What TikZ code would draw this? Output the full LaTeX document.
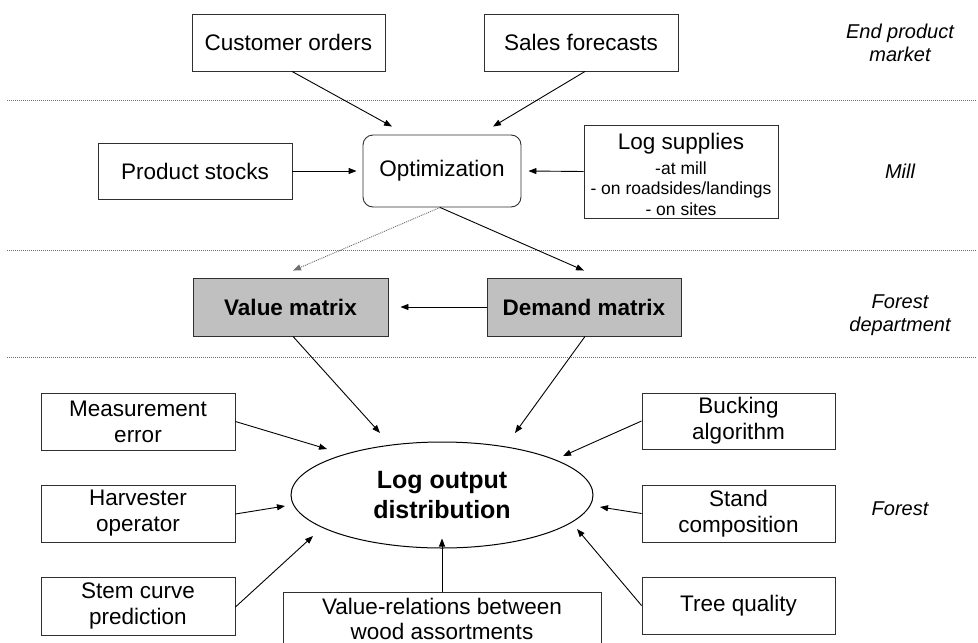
\documentclass[tikz,border=0pt]{standalone}
\usepackage{fontspec}
\setmainfont{Liberation Sans}
\usetikzlibrary{arrows.meta,shapes.geometric}
\definecolor{boxgray}{HTML}{C0C0C0}
\definecolor{edgegray}{HTML}{303030}
\definecolor{sepgray}{HTML}{707070}
\begin{document}
\begin{tikzpicture}[x=1pt,y=-1pt,
  box/.style={draw=edgegray,line width=0.9pt,rectangle,inner sep=2pt,align=center,
    font=\fontsize{22.5}{26}\selectfont},
  filled/.style={box,fill=boxgray,font=\fontsize{22.5}{26}\selectfont\bfseries},
  region/.style={font=\fontsize{20}{23}\selectfont\itshape,align=center},
  sep/.style={draw=sepgray,line width=0.9pt,dash pattern=on 1pt off 1pt},
  arr/.style={draw=black,line width=0.9pt,-{Triangle[length=8pt,width=6pt]}},
  darr/.style={arr,draw=sepgray,dash pattern=on 1pt off 1pt}
]
\clip (0,0) rectangle (978,643);
\fill[white] (0,0) rectangle (978,643);

% separators
\coordinate (s1l) at (7,100);  \coordinate (s1r) at (977,100);
\coordinate (s2l) at (7,250);  \coordinate (s2r) at (977,250);
\coordinate (s3l) at (7,357);  \coordinate (s3r) at (977,357);
\draw[sep] (s1l) -- (s1r);
\draw[sep] (s2l) -- (s2r);
\draw[sep] (s3l) -- (s3r);

% region labels
\node[region] (lmarket) at (900,43) {End product\\market};
\node[region] (lmill) at (900,171) {Mill};
\node[region] (ldept) at (900,315) {Forest\\department};
\node[region] (lforest) at (900,509) {Forest};

% top row
\node[box,minimum width=193pt,minimum height=57pt] (cust) at (288.5,42.5) {Customer orders};
\node[box,minimum width=194pt,minimum height=57pt] (sales) at (581,42.5) {Sales forecasts};

% mill row
\node[box,minimum width=194pt,minimum height=56pt] (prod) at (195,171) {Product stocks};
\node[box,rounded corners=10pt,minimum width=158pt,minimum height=72pt] (opt) at (442,171) {Optimization};
\node[box,minimum width=194pt,minimum height=93pt,inner sep=0pt] (logs) at (681,171.5) {};
\node[align=center,inner sep=0pt,font=\fontsize{17.5}{20.5}\selectfont] (logstext) at (681,174)
  {{\fontsize{22.5}{26}\selectfont Log supplies}\\[4.5pt]-at mill\\- on roadsides/landings\\- on sites};

% forest department row
\node[filled,minimum width=195pt,minimum height=58pt] (value) at (290.5,307) {Value matrix};
\node[filled,minimum width=194pt,minimum height=58pt] (demand) at (584,307) {Demand matrix};

% forest
\node[draw=black,line width=1pt,ellipse,minimum width=302pt,minimum height=106pt,inner sep=0pt,align=center,
  font=\fontsize{25}{30}\selectfont\bfseries] (ell) at (442,495) {Log output\\distribution};

\node[box,minimum width=194pt,minimum height=57pt] (meas) at (138,421.5) {Measurement\\error};
\node[box,minimum width=194pt,minimum height=57pt] (harv) at (138,513.5) {Harvester\\operator};
\node[box,minimum width=194pt,minimum height=58pt] (stem) at (138,606) {Stem curve\\prediction};
\node[box,minimum width=318pt,minimum height=54pt,font=\fontsize{22.5}{25}\selectfont] (vrel) at (442,619) {Value-relations between\\wood assortments};
\node[box,minimum width=193pt,minimum height=56pt] (buck) at (738.5,421) {Bucking\\algorithm};
\node[box,minimum width=193pt,minimum height=57pt] (stand) at (738.5,513.5) {Stand\\composition};
\node[box,minimum width=193pt,minimum height=57pt] (tree) at (738.5,605.5) {Tree quality};

% connectors
\draw[arr] ([xshift=3.5pt]cust.south) -- ([shift={(-50,-8)}]opt.north);
\draw[arr] ([xshift=4pt]sales.south) -- ([shift={(51,-8)}]opt.north);
\draw[arr] (prod.east) -- ([xshift=-6pt]opt.west);
\draw[arr] (logs.west) -- ([xshift=7pt]opt.east);
\draw[darr] ([xshift=-2pt]opt.south) -- ([shift={(2.5,-7)}]value.north);
\draw[arr] ([xshift=-2pt]opt.south) -- ([shift={(0,-7)}]demand.north);
\draw[arr] (demand.west) -- ([xshift=12pt]value.east);
\draw[arr] ([xshift=2.5pt]value.south) -- ([shift={(-62,-62)}]ell.center);
\draw[arr] ([xshift=1pt]demand.south) -- ([shift={(73,-62)}]ell.center);
\draw[arr] (meas.east) -- ([shift={(-115,-46)}]ell.center);
\draw[arr] ([yshift=-0.5pt]harv.east) -- ([shift={(-157,11)}]ell.center);
\draw[arr] ([yshift=-1pt]stem.east) -- ([shift={(-129,41)}]ell.center);
\draw[arr] (vrel.north) -- ([yshift=10pt]ell.south);
\draw[arr] (tree.west) -- ([shift={(135,34)}]ell.center);
\draw[arr] (stand.west) -- ([shift={(158,12)}]ell.center);
\draw[arr] (buck.west) -- ([shift={(121,-39)}]ell.center);
\end{tikzpicture}
\end{document}
